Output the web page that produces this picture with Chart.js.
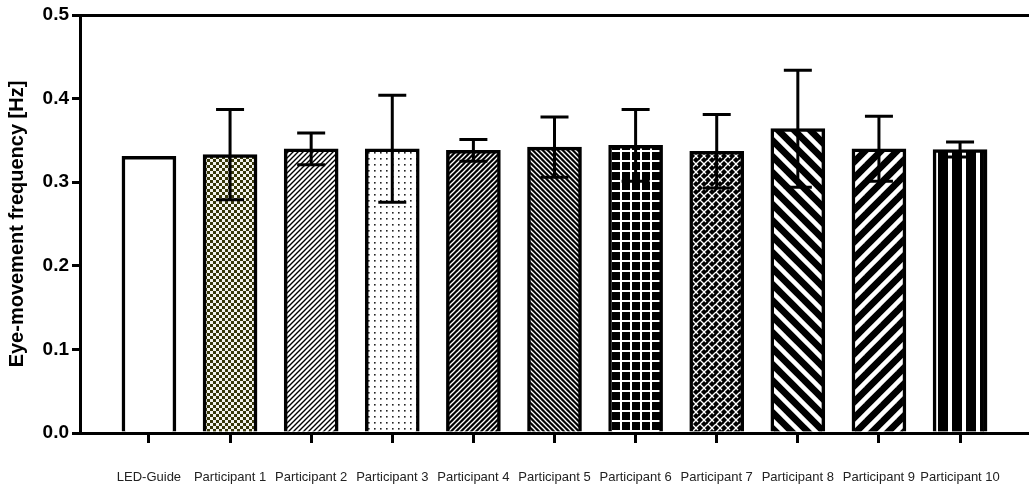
<!DOCTYPE html>
<html>
<head>
<meta charset="utf-8">
<script src="https://cdn.jsdelivr.net/npm/chart.js@4.4.1/dist/chart.umd.min.js"></script>
<style>
  html, body { margin: 0; padding: 0; background: #fff; }
  #wrap { width: 1029px; height: 486px; position: relative; }
</style>
</head>
<body>
<div id="wrap"><canvas id="chart"></canvas></div>
<script>
// ---------------------------------------------------------------------------
// Eye-movement frequency per participant (mean +/- SD)
// ---------------------------------------------------------------------------

const categories = ['LED-Guide', 'Participant 1', 'Participant 2', 'Participant 3', 'Participant 4',
    'Participant 5', 'Participant 6', 'Participant 7', 'Participant 8', 'Participant 9', 'Participant 10'];
const meanValues = [0.331, 0.333, 0.340, 0.340, 0.338, 0.342, 0.344, 0.337, 0.364, 0.340, 0.339];
const sdValues = [0, 0.054, 0.019, 0.064, 0.013, 0.036, 0.043, 0.044, 0.070, 0.039, 0.009];
const yTicks = [0, 0.1, 0.2, 0.3, 0.4, 0.5];

const FONT = '"Liberation Sans", Arial, Helvetica, sans-serif';

// small tile -> CanvasPattern
function makePattern(w, h, draw) {
    const c = document.createElement('canvas');
    c.width = w; c.height = h;
    const g = c.getContext('2d');
    draw(g, w, h);
    return g.createPattern(c, 'repeat');
}

function diag(bg, fg, p, lw, dir) {
    return makePattern(p, p, (g, w, h) => {
        g.fillStyle = bg; g.fillRect(0, 0, w, h);
        g.strokeStyle = fg; g.lineWidth = lw; g.lineCap = 'square';
        const segs = dir === '/' ?
            [[0, p, p, 0], [-p, p, p, -p], [0, 2 * p, 2 * p, 0]] :
            [[0, 0, p, p], [-p, 0, p, 2 * p], [0, -p, 2 * p, p]];
        segs.forEach(s => { g.beginPath(); g.moveTo(s[0], s[1]); g.lineTo(s[2], s[3]); g.stroke(); });
    });
}

const fills = [
    '#ffffff',
    makePattern(6, 6, (g) => {           // olive checker
        g.fillStyle = '#f4f4ee'; g.fillRect(0, 0, 6, 6);
        g.fillStyle = '#38380a'; g.fillRect(0, 0, 3, 3); g.fillRect(3, 3, 3, 3);
    }),
    diag('#ffffff', '#000000', 5, 1.4, '/'),
    makePattern(6, 6, (g) => {           // dots
        g.fillStyle = '#ffffff'; g.fillRect(0, 0, 6, 6);
        g.fillStyle = '#222222'; g.fillRect(2, 2, 1.6, 1.6);
    }),
    diag('#000000', '#ffffff', 5, 1.3, '/'),
    diag('#000000', '#ffffff', 5, 1.3, '\\'),
    makePattern(10, 10, (g) => {         // grid
        g.fillStyle = '#000000'; g.fillRect(0, 0, 10, 10);
        g.fillStyle = '#ffffff'; g.fillRect(0, 0, 10, 2); g.fillRect(0, 0, 2, 10);
    }),
    makePattern(8, 8, (g) => {           // brick / zigzag
        g.fillStyle = '#000000'; g.fillRect(0, 0, 8, 8);
        g.strokeStyle = '#ffffff'; g.lineWidth = 1.3;
        g.beginPath(); g.moveTo(0, 4); g.lineTo(4, 0); g.stroke();
        g.beginPath(); g.moveTo(4, 8); g.lineTo(8, 4); g.stroke();
        g.beginPath(); g.moveTo(4, 0); g.lineTo(8, 4); g.stroke();
        g.beginPath(); g.moveTo(0, 4); g.lineTo(2, 6); g.stroke();
    }),
    diag('#000000', '#ffffff', 16, 4.5, '\\'),
    diag('#000000', '#ffffff', 16, 4.5, '/'),
    makePattern(14, 14, (g) => {         // vertical stripes
        g.fillStyle = '#000000'; g.fillRect(0, 0, 14, 14);
        g.fillStyle = '#ffffff'; g.fillRect(10, 0, 4, 14);
    })
];

const errorBars = {
    id: 'errorBars',
    afterDatasetsDraw(chart) {
        const { ctx, scales: { x, y } } = chart;
        ctx.save();
        ctx.strokeStyle = '#000';
        ctx.lineWidth = 3;
        meanValues.forEach((m, i) => {
            const sd = sdValues[i];
            if (!sd) return;
            const px = x.getPixelForValue(i);
            const top = y.getPixelForValue(m + sd);
            const bot = y.getPixelForValue(m - sd);
            ctx.beginPath();
            ctx.moveTo(px, top); ctx.lineTo(px, bot);
            ctx.moveTo(px - 14, top); ctx.lineTo(px + 14, top);
            ctx.moveTo(px - 14, bot); ctx.lineTo(px + 14, bot);
            ctx.stroke();
        });
        ctx.restore();
    }
};

const ctx = document.getElementById('chart').getContext('2d');
new Chart(ctx, {
    type: 'bar',
    data: {
        datasets: [{
            data: meanValues.map((v, i) => ({ x: i, y: v })),
            backgroundColor: fills,
            borderColor: '#000',
            borderWidth: 3.5,
            barThickness: 54
        }]
    },
    options: {
        responsive: true,
        maintainAspectRatio: false,
        animation: false,
        layout: { padding: { top: 15, right: 0, bottom: 0, left: 0 } },
        plugins: { legend: { display: false }, tooltip: { enabled: false } },
        scales: {
            x: {
                type: 'linear',
                min: -0.85,
                max: 10.85,
                offset: false,
                afterFit: (s) => { s.height = 53; },
                border: { color: '#000', width: 3 },
                grid: { offset: false, drawOnChartArea: false, color: '#000', tickColor: '#000', tickWidth: 3, tickLength: 10 },
                ticks: {
                    stepSize: 1,
                    includeBounds: false,
                    autoSkip: false,
                    maxRotation: 0,
                    padding: 27,
                    color: '#222',
                    font: { family: FONT, size: 13 },
                    callback: (v) => categories[v] ?? ''
                }
            },
            y: {
                min: 0,
                max: 0.5,
                afterFit: (s) => { s.width = 80; },
                afterBuildTicks: (s) => { s.ticks = yTicks.map(v => ({ value: v })); },
                border: { color: '#000', width: 3 },
                grid: {
                    drawOnChartArea: true,
                    color: (c) => (c.tick && c.tick.value === 0.5 ? '#000' : 'rgba(0,0,0,0)'),
                    lineWidth: 3,
                    tickColor: '#000',
                    tickWidth: 3,
                    tickLength: 8
                },
                ticks: {
                    padding: 3,
                    color: '#000',
                    font: { family: FONT, size: 19, weight: 'bold' },
                    callback: (v) => v.toFixed(1)
                },
                title: {
                    display: true,
                    text: 'Eye-movement frequency [Hz]',
                    color: '#000',
                    padding: { top: 5, bottom: 0 },
                    font: { family: FONT, size: 20, weight: 'bold' }
                }
            }
        }
    },
    plugins: [errorBars]
});
</script>
</body>
</html>
